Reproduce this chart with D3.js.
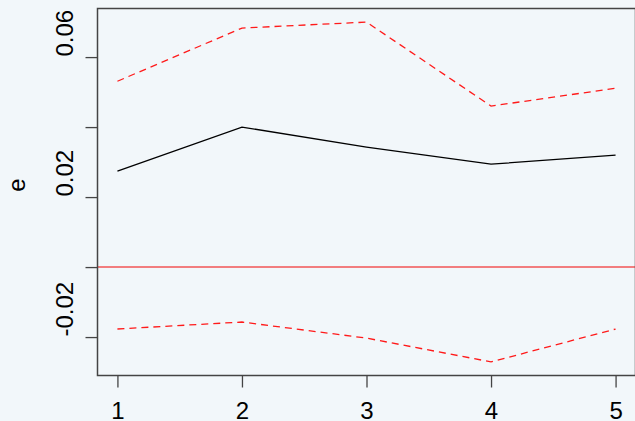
<!DOCTYPE html>
<html>
<head>
<meta charset="utf-8">
<script src="https://cdn.jsdelivr.net/npm/d3@7"></script>
<style>
  html, body { margin: 0; padding: 0; background: #f2f7fa; }
  svg { display: block; }
  text { font-family: "Liberation Sans", Arial, sans-serif; fill: #000; }
</style>
</head>
<body>
<svg id="chart" width="635" height="421"></svg>
<script>
// Horizon steps
const steps = [1, 2, 3, 4, 5];
// Point estimate
const estimate = [0.0274, 0.0400, 0.0343, 0.0294, 0.0320];
// Upper and lower confidence bands
const upper = [0.0531, 0.0683, 0.0700, 0.0460, 0.0511];
const lower = [-0.0177, -0.0157, -0.0203, -0.0271, -0.0177];
// Axis ticks
const xTicks = [1, 2, 3, 4, 5];
const yTicks = [-0.02, 0.00, 0.02, 0.04, 0.06];
const yTickLabels = ["-0.02", "", "0.02", "", "0.06"];
const yLabel = "e";

const svg = d3.select("#chart");
const m = { left: 97.5, right: 635.5, top: 8.5, bottom: 375.5 };

// Axis ranges padded 4% the way base graphics does
const all = estimate.concat(upper, lower);
const yMin = d3.min(all), yMax = d3.max(all);
const yPad = (yMax - yMin) * 0.04;
const xPad = (d3.max(steps) - d3.min(steps)) * 0.04;

const x = d3.scaleLinear().domain([d3.min(steps) - xPad, d3.max(steps) + xPad]).range([m.left, m.right]);
const y = d3.scaleLinear().domain([yMin - yPad, yMax + yPad]).range([m.bottom, m.top]);

const line = d3.line().x((d, i) => x(steps[i])).y(d => y(d));

// Zero reference line
svg.append("line")
  .attr("x1", m.left).attr("x2", m.right)
  .attr("y1", y(0)).attr("y2", y(0))
  .attr("stroke", "#f25555").attr("stroke-width", 1.4);

// Confidence bands
[upper, lower].forEach(band => {
  svg.append("path")
    .datum(band)
    .attr("d", line)
    .attr("fill", "none")
    .attr("stroke", "#ff1a1a")
    .attr("stroke-width", 1.3)
    .attr("stroke-dasharray", "7,5");
});

// Point estimate
svg.append("path")
  .datum(estimate)
  .attr("d", line)
  .attr("fill", "none")
  .attr("stroke", "#000")
  .attr("stroke-width", 1.3);

// Plot frame
svg.append("rect")
  .attr("x", m.left).attr("y", m.top)
  .attr("width", m.right - m.left).attr("height", m.bottom - m.top)
  .attr("fill", "none").attr("stroke", "#444").attr("stroke-width", 1.5);

// X axis
const xAxis = d3.axisBottom(x).tickValues(xTicks).tickSize(12).tickFormat(d3.format("d"));
const gx = svg.append("g").attr("transform", `translate(0,${m.bottom})`).call(xAxis);
gx.select(".domain").remove();
gx.selectAll("line").attr("stroke", "#444").attr("stroke-width", 1.3);
gx.selectAll("text").attr("font-size", 24).attr("y", 26).attr("dy", "0.71em")
  .style("font-family", "Liberation Sans, Arial, sans-serif").attr("fill", "#000");

// Y axis: rotated labels starting at their tick and reading upward
const yAxis = d3.axisLeft(y).tickValues(yTicks).tickSize(12).tickFormat((d, i) => yTickLabels[i]);
const gy = svg.append("g").attr("transform", `translate(${m.left},0)`).call(yAxis);
gy.select(".domain").remove();
gy.selectAll("line").attr("stroke", "#444").attr("stroke-width", 1.3);
gy.selectAll("text")
  .attr("x", null).attr("dy", null)
  .attr("text-anchor", "start")
  .attr("transform", "translate(-25,-1) rotate(-90)")
  .attr("font-size", 24)
  .style("font-family", "Liberation Sans, Arial, sans-serif").attr("fill", "#000");

// Y axis title
svg.append("text")
  .attr("transform", "translate(25,185) rotate(-90)")
  .attr("text-anchor", "middle")
  .attr("font-size", 24)
  .text(yLabel);
</script>
</body>
</html>
